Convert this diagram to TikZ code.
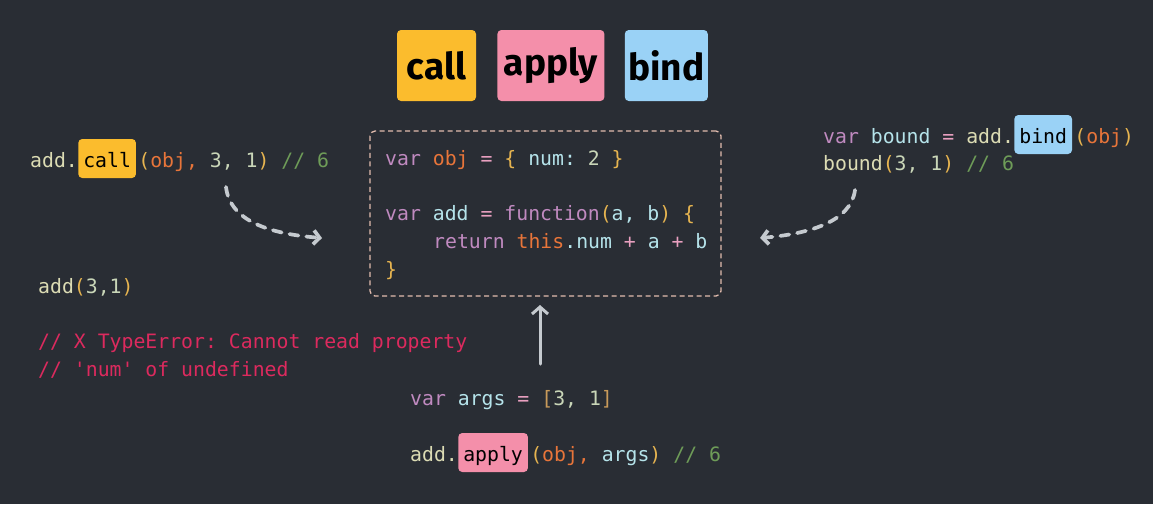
\documentclass[tikz,border=0pt]{standalone}
\usepackage{fontspec}
\setmonofont{DejaVu Sans Mono}
\newfontfamily\handfont{Fira Sans}
\usepackage{tikz}
\usetikzlibrary{positioning,arrows.meta}

\definecolor{bg}{HTML}{292D34}
\definecolor{ckw}{HTML}{C08AC0}
\definecolor{cvar}{HTML}{B5E3EA}
\definecolor{cobj}{HTML}{E8753A}
\definecolor{cpun}{HTML}{E6B450}
\definecolor{cnum}{HTML}{C9D6B8}
\definecolor{cfn}{HTML}{DCDCB4}
\definecolor{cop}{HTML}{E9A0C0}
\definecolor{ccom}{HTML}{6E9C58}
\definecolor{cerr}{HTML}{DC2A5E}
\definecolor{cbr}{HTML}{C89A5A}
\definecolor{arrowgray}{HTML}{C5CACF}
\definecolor{boxline}{HTML}{E2BCAE}
\definecolor{callc}{HTML}{FBBC2D}
\definecolor{applyc}{HTML}{F48FAA}
\definecolor{bindc}{HTML}{9AD2F6}

\newcommand{\codefont}{\ttfamily\fontsize{19.8}{27.5}\selectfont}
\newcommand{\cKw}[1]{\textcolor{ckw}{#1}}
\newcommand{\cVar}[1]{\textcolor{cvar}{#1}}
\newcommand{\cObj}[1]{\textcolor{cobj}{#1}}
\newcommand{\cPun}[1]{\textcolor{cpun}{#1}}
\newcommand{\cNum}[1]{\textcolor{cnum}{#1}}
\newcommand{\cOp}[1]{\textcolor{cop}{#1}}
\newcommand{\cCom}[1]{\textcolor{ccom}{#1}}
\newcommand{\cBr}[1]{\textcolor{cbr}{#1}}

\begin{document}
\begin{tikzpicture}[x=1pt,y=-1pt]
        \tikzstyle{title} = [rounded corners=4pt, minimum height=71pt, inner sep=0pt, text=black, font=\handfont\bfseries\fontsize{37}{40}\selectfont]
        \tikzstyle{code} = [inner sep=0pt, anchor=base west, text=cfn, font=\codefont]
        \tikzstyle{hl} = [rounded corners=4pt, inner xsep=5pt, inner ysep=6pt, text height=22pt, text depth=5pt, anchor=base west, text=black, font=\codefont]
        \tikzstyle{flow} = [draw=arrowgray, line width=3.7pt, line cap=round, dash pattern=on 9pt off 8pt, -{Straight Barb[length=6pt,width=14pt]}]
        \fill[bg] (0,0) rectangle (1153,504);
        \useasboundingbox (0,0) rectangle (1153,504);
        % titles
        \node[title, fill=callc, minimum width=79pt] (call) at (436.5,65.5) {call};
        \node[title, fill=applyc, minimum width=107pt, right=21pt of call] (apply) {apply};
        \node[title, fill=bindc, minimum width=83pt, right=20pt of apply] (bind) {bind};
        % the function
        \node[draw=boxline, line width=1.3pt, dash pattern=on 5pt off 3.5pt, rounded corners=5pt, minimum width=351pt, minimum height=165pt] (obj) at (545.5,213.5) {};
        \node[code] (l1) at (385,165) {\cKw{var} \cObj{obj} \cOp{=} \cPun{\{} \cVar{num:} \cNum{2} \cPun{\}}};
        \node[code] (l2) at (385,220) {\cKw{var} \cVar{add} \cOp{=} \cKw{function}\cPun{(}\cVar{a, b}\cPun{)} \cPun{\{}};
        \node[code] (l3) at (433,248) {\cKw{return} \cObj{this}\cVar{.num} \cOp{+} \cVar{a} \cOp{+} \cVar{b}};
        \node[code] (l4) at (385,276) {\cPun{\}}};
        % call
        \node[code] (c1) at (30,167) {add.};
        \node[hl, fill=callc] (callhl) at (c1.base east) {call};
        \node[code] (c2) at ([xshift=2pt]callhl.base east) {\cPun{(}\cObj{obj,} \cNum{3, 1}\cPun{)} \cCom{// 6}};
        % bind
        \node[code] (b1) at (823,143) {\cKw{var} \cVar{bound} \cOp{=} add.};
        \node[hl, fill=bindc] (bindhl) at (b1.base east) {bind};
        \node[code] (b2) at ([xshift=2pt]bindhl.base east) {\cPun{(}\cObj{obj}\cPun{)}};
        \node[code] (b3) at (823,170) {bound\cPun{(}\cNum{3, 1}\cPun{)} \cCom{// 6}};
        % apply
        \node[code] (a1) at (410,405) {\cKw{var} \cVar{args} \cOp{=} \cBr{[}\cNum{3, 1}\cBr{]}};
        \node[code] (a2) at (410,461) {add.};
        \node[hl, fill=applyc] (applyhl) at (a2.base east) {apply};
        \node[code] (a3) at ([xshift=2pt]applyhl.base east) {\cPun{(}\cObj{obj,} \cVar{args}\cPun{)} \cCom{// 6}};
        % plain call
        \node[code] (p1) at (38,293) {add\cPun{(}\cNum{3,1}\cPun{)}};
        \node[code, text=cerr] (e1) at (38,348) {// X TypeError: Cannot read property};
        \node[code, text=cerr] (e2) at (38,376) {// 'num' of undefined};
        % arrows
        \coordinate (cs) at (226,187);
        \coordinate (ce) at (322,238);
        \coordinate (bs) at (855,190);
        \coordinate (be) at (760,238);
        \coordinate (as) at (540,364);
        \coordinate (ae) at (540,305);
        \begin{scope}
          \draw[flow] (cs) .. controls (230,222) and (272,234) .. (ce);
          \draw[flow] (bs) .. controls (851,222) and (808,234) .. (be);
          \draw[draw=arrowgray, line width=3pt, line cap=round, -{Straight Barb[length=7pt,width=16pt]}] (as) -- (ae);
        \end{scope}
      \end{tikzpicture}
\end{document}
